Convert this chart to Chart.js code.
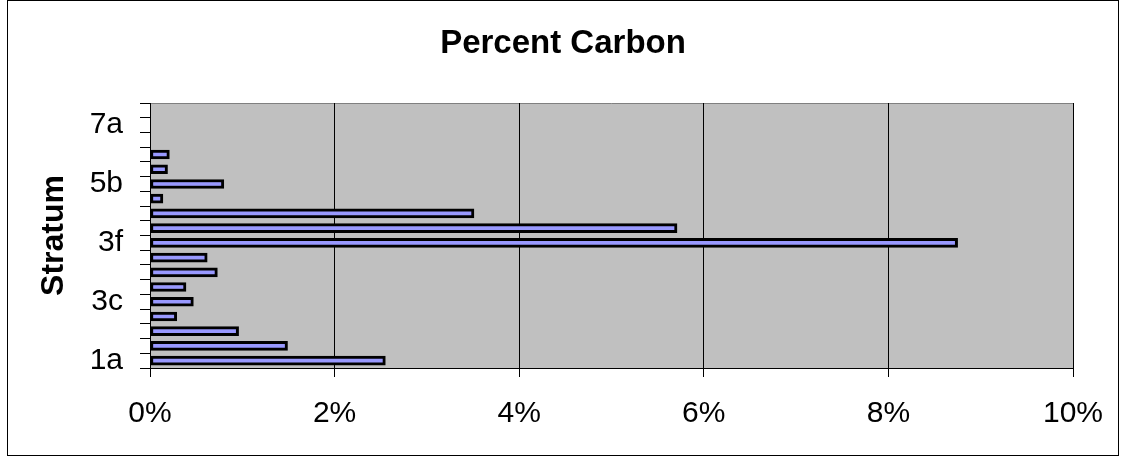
<!DOCTYPE html>
<html>
<head>
<meta charset="utf-8">
<title>Percent Carbon</title>
<script src="https://cdn.jsdelivr.net/npm/chart.js@4.4.1/dist/chart.umd.min.js"></script>
<style>
  html, body { margin: 0; padding: 0; background: #ffffff; }
  #wrap { width: 1126px; height: 463px; position: relative; }
  canvas { display: block; }
</style>
</head>
<body>
<div id="wrap"><canvas id="chart" width="1126" height="463"></canvas></div>
<script>
// Strata, listed from the bottom of the section upward
const strata = ['1a', '1b', '2', '3b', '3c', '3d', '3e1', '3e2', '3f', '4a', '4b', '5a', '5b', '5c', '6a', '6b', '7a', '7b'];
// Only every fourth stratum is labelled on the axis
const labelledStrata = ['1a', '3c', '3f', '5b', '7a'];
// Carbon content, percent by weight (no sample for the uppermost strata)
const carbonPct = [2.55, 1.49, 0.96, 0.29, 0.47, 0.39, 0.73, 0.62, 8.75, 5.71, 3.51, 0.14, 0.80, 0.19, 0.21, null, null, null];
// Percent axis
const pctMin = 0;
const pctMax = 10;
const pctStep = 2;

const FONT = "'Liberation Sans', Arial, Helvetica, sans-serif";

// Grey plot area, dark top edge and the outer frame of the chart
const frame = {
  id: 'frame',
  beforeDraw(chart) {
    const { ctx, chartArea: a } = chart;
    ctx.save();
    ctx.fillStyle = '#ffffff';
    ctx.fillRect(0, 0, chart.width, chart.height);
    ctx.fillStyle = '#c0c0c0';
    ctx.fillRect(a.left, a.top, a.right - a.left, a.bottom - a.top);
    ctx.strokeStyle = '#808080';
    ctx.lineWidth = 1;
    ctx.beginPath();
    ctx.moveTo(a.left, a.top + 0.5);
    ctx.lineTo(a.right, a.top + 0.5);
    ctx.stroke();
    ctx.restore();
  },
  afterDraw(chart) {
    const { ctx } = chart;
    ctx.save();
    ctx.strokeStyle = '#000000';
    ctx.lineWidth = 1;
    ctx.strokeRect(7.5, 0.5, chart.width - 15, chart.height - 8);
    ctx.restore();
  }
};

new Chart(document.getElementById('chart'), {
  type: 'bar',
  data: {
    labels: strata,
    datasets: [{
      label: 'Percent Carbon',
      data: carbonPct,
      backgroundColor: '#9999ff',
      borderColor: '#000000',
      borderWidth: 3,
      borderSkipped: false,
      barThickness: 9
    }]
  },
  plugins: [frame],
  options: {
    indexAxis: 'y',
    responsive: false,
    animation: false,
    devicePixelRatio: 1,
    layout: { padding: { left: 0, right: 0, top: 0, bottom: 0 } },
    plugins: {
      legend: { display: false },
      tooltip: { enabled: false },
      title: {
        display: true,
        text: 'Percent Carbon',
        color: '#000000',
        font: { family: FONT, size: 33, weight: 'bold', lineHeight: 1.2 },
        padding: { top: 24, bottom: 39.4 }
      }
    },
    scales: {
      x: {
        type: 'linear',
        position: 'bottom',
        min: pctMin,
        max: pctMax,
        ticks: {
          stepSize: pctStep,
          color: '#000000',
          font: { family: FONT, size: 30, lineHeight: 1.2 },
          padding: 19,
          maxRotation: 0,
          callback: v => v + '%'
        },
        grid: { color: '#000000', lineWidth: 1, tickLength: 9, drawOnChartArea: true },
        border: { display: true, color: '#000000', width: 1 },
        afterFit(scale) { scale.height = 95; }
      },
      y: {
        type: 'category',
        position: 'left',
        reverse: true,
        offset: true,
        ticks: {
          autoSkip: false,
          color: '#000000',
          font: { family: FONT, size: 30, lineHeight: 1.2 },
          padding: 17,
          callback(value) {
            const name = this.getLabelForValue(value);
            return labelledStrata.includes(name) ? name : '';
          }
        },
        grid: { display: true, drawOnChartArea: false, drawTicks: true, tickLength: 10, color: '#000000', offset: true },
        border: { display: true, color: '#000000', width: 1 },
        title: {
          display: true,
          text: 'Stratum',
          color: '#000000',
          font: { family: FONT, size: 32, weight: 'bold', lineHeight: 1.2 },
          padding: { top: 34.5, bottom: 0 }
        },
        afterFit(scale) { scale.width = 150; }
      },
      // empty margin to the right of the plot
      yRight: {
        type: 'linear',
        position: 'right',
        display: true,
        ticks: { display: false },
        grid: { display: false, drawTicks: false },
        border: { display: false },
        afterFit(scale) { scale.width = 53; }
      }
    }
  }
});
</script>
</body>
</html>
